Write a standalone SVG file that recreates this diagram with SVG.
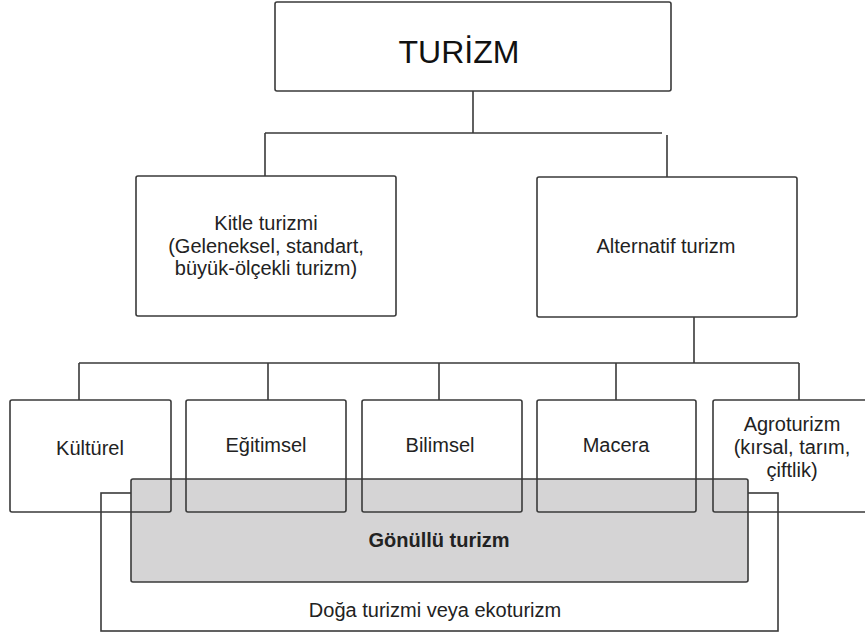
<svg xmlns="http://www.w3.org/2000/svg" width="865" height="637" viewBox="0 0 865 637">
<style>
.box{fill:none;stroke:#3a3a3a;stroke-width:1.6}
.wbox{fill:#ffffff;stroke:#3a3a3a;stroke-width:1.6}
.ln{fill:none;stroke:#3a3a3a;stroke-width:1.6}
text{font-family:"Liberation Sans",Arial,sans-serif;font-size:20px;fill:#222;text-anchor:middle}
.title{font-size:32px;fill:#111}
.bold{font-weight:bold}
</style>
<rect width="865" height="637" fill="#ffffff"/>
<g id="turizm"><rect class="wbox" x="275" y="2" width="396" height="89" rx="2"/><text class="title" x="459" y="63">TURİZM</text></g>
<g id="kitle"><rect class="wbox" x="136" y="176" width="260" height="140" rx="2"/>
<text x="266" y="230">Kitle turizmi</text><text x="266" y="252.5">(Geleneksel, standart,</text><text x="266" y="275">büyük-ölçekli turizm)</text></g>
<g id="alternatif"><rect class="wbox" x="537" y="177" width="260" height="140" rx="2"/><text x="666" y="253">Alternatif turizm</text></g>
<g id="ekoturizm"><rect class="box" x="101" y="493" width="677" height="138"/><text x="435" y="617">Doğa turizmi veya ekoturizm</text></g>
<g id="gonullu"><rect x="131" y="479" width="617" height="103" rx="2" fill="#d5d4d5" stroke="#3a3a3a" stroke-width="1.6"/><text class="bold" x="439" y="547">Gönüllü turizm</text></g>
<g id="kulturel"><rect class="box" x="10" y="400" width="161" height="112" rx="2"/><text x="90" y="455">Kültürel</text></g>
<g id="egitimsel"><rect class="box" x="186" y="400" width="160" height="112" rx="2"/><text x="266" y="452">Eğitimsel</text></g>
<g id="bilimsel"><rect class="box" x="362" y="400" width="160" height="112" rx="2"/><text x="440" y="452">Bilimsel</text></g>
<g id="macera"><rect class="box" x="537" y="400" width="159" height="112" rx="2"/><text x="616" y="452">Macera</text></g>
<g id="agroturizm"><rect class="box" x="713" y="400" width="162" height="112" rx="2"/>
<text x="792" y="431">Agroturizm</text><text x="792" y="454">(kırsal, tarım,</text><text x="792" y="477">çiftlik)</text></g>
<g id="connectors">
<path class="ln" d="M473 91V133M265 133H662M265 133V176M667 135V177"/>
<path class="ln" d="M694 317V363M79 363H799M79 363V400M268 363V400M439 363V400M616 363V400M799 363V400"/>
</g>
</svg>
